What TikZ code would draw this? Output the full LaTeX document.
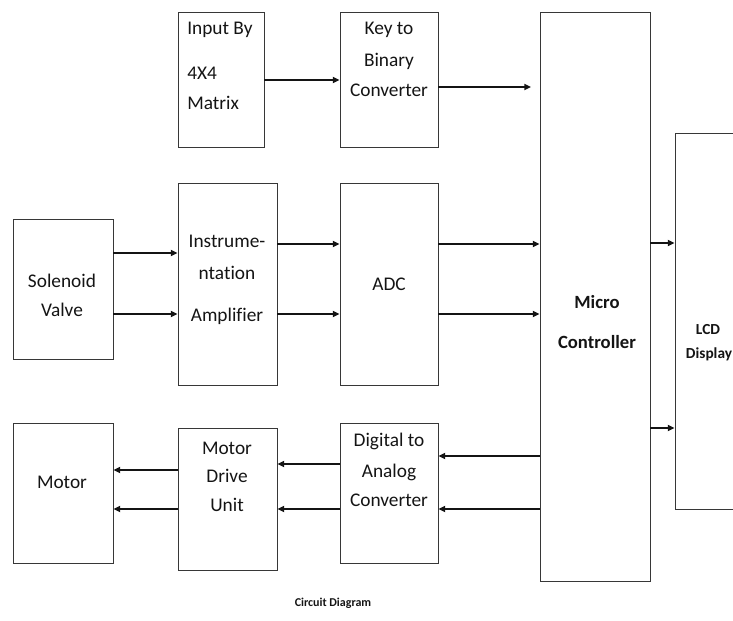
\documentclass[tikz,border=0pt]{standalone}
\usepackage{fontspec}
\setmainfont[Ligatures=NoCommon]{Carlito}
\usetikzlibrary{positioning,arrows.meta,fit}
\definecolor{ink}{RGB}{20,20,20}
\definecolor{frame}{RGB}{55,55,55}
\tikzset{
  blk/.style={draw=frame, line width=0.6pt, inner sep=0pt},
  txt/.style={font=\fontsize{14.5}{16}\selectfont, text=ink, inner sep=0pt},
  btxt/.style={font=\bfseries\fontsize{14}{16}\selectfont, text=ink, inner sep=0pt},
  stxt/.style={font=\bfseries\fontsize{11.5}{13}\selectfont, text=ink, inner sep=0pt},
  sig/.style={-{Triangle[length=5pt,width=4.5pt]}, line width=1.4pt, draw=ink},
}

\begin{document}
\begin{tikzpicture}[x=0.75pt, y=-0.75pt]
  \useasboundingbox (0,0) rectangle (733,621);
  % blocks
  \node[blk, fit={(178,12) (264,147)}] (inp) {};
  \node[blk, fit={(340,12) (438,147)}] (key) {};
  \node[blk, fit={(540,12) (650,581)}] (mc) {};
  \node[blk, fit={(675,133) (745,509)}] (lcd) {};
  \node[blk, fit={(13,219) (113,359)}] (sol) {};
  \node[blk, fit={(178,183) (277,385)}] (ins) {};
  \node[blk, fit={(340,183) (438,385)}] (adc) {};
  \node[blk, fit={(13,423) (113,563)}] (mot) {};
  \node[blk, fit={(178,428) (277,570)}] (mdu) {};
  \node[blk, fit={(340,423) (438,563)}] (dac) {};
  % labels
  \node[txt, anchor=west] (inp-a) at (187,30) {Input By};
  \node[txt, anchor=west] (inp-b) at (187,73) {4X4};
  \node[txt, anchor=west] (inp-c) at (187,103) {Matrix};
  \node[txt] (key-a) at (389,30) {Key to};
  \node[txt] (key-b) at (389,61) {Binary};
  \node[txt] (key-c) at (389,90) {Converter};
  \node[btxt] (mc-a) at (597,302) {Micro};
  \node[btxt] (mc-b) at (597,342) {Controller};
  \node[stxt] (lcd-a) at (708,330) {LCD};
  \node[stxt] (lcd-b) at (709,354) {Display};
  \node[txt] (sol-a) at (62,281) {Solenoid};
  \node[txt] (sol-b) at (62,310) {Valve};
  \node[txt] (ins-a) at (227,241) {Instrume-};
  \node[txt] (ins-b) at (227,273) {ntation};
  \node[txt] (ins-c) at (227,316) {Amplifier};
  \node[txt] (adc-a) at (389,284) {ADC};
  \node[txt] (mot-a) at (62,482) {Motor};
  \node[txt] (mdu-a) at (227,448) {Motor};
  \node[txt] (mdu-b) at (227,476) {Drive};
  \node[txt] (mdu-c) at (227,505) {Unit};
  \node[txt] (dac-a) at (389,441) {Digital to};
  \node[txt] (dac-b) at (389,472) {Analog};
  \node[txt] (dac-c) at (389,500) {Converter};
  \node[font=\bfseries\fontsize{9}{11}\selectfont, text=ink] (cap) at (333,603) {Circuit Diagram};
  % signal rows
  \coordinate (r0) at (0,80);   \coordinate (r1) at (0,87);
  \coordinate (r2) at (0,253);  \coordinate (r3) at (0,244);
  \coordinate (r4) at (0,314);  \coordinate (r5) at (0,243);
  \coordinate (r6) at (0,428);  \coordinate (r7) at (0,456);
  \coordinate (r8) at (0,509);  \coordinate (r9) at (0,464);
  \coordinate (r10) at (0,470);
  % connectors
  \draw[sig] (inp.east |- r0) -- (key.west |- r0);
  \draw[sig, shorten >=6.5pt] (key.east |- r1) -- (mc.west |- r1);
  \draw[sig] (sol.east |- r2) -- (ins.west |- r2);
  \draw[sig] (sol.east |- r4) -- (ins.west |- r4);
  \draw[sig] (ins.east |- r3) -- (adc.west |- r3);
  \draw[sig] (ins.east |- r4) -- (adc.west |- r4);
  \draw[sig] (adc.east |- r3) -- (mc.west |- r3);
  \draw[sig] (adc.east |- r4) -- (mc.west |- r4);
  \draw[sig] (mc.east |- r5) -- (lcd.west |- r5);
  \draw[sig] (mc.east |- r6) -- (lcd.west |- r6);
  \draw[sig] (mc.west |- r7) -- (dac.east |- r7);
  \draw[sig] (mc.west |- r8) -- (dac.east |- r8);
  \draw[sig] (dac.west |- r9) -- (mdu.east |- r9);
  \draw[sig] (dac.west |- r8) -- (mdu.east |- r8);
  \draw[sig] (mdu.west |- r10) -- (mot.east |- r10);
  \draw[sig] (mdu.west |- r8) -- (mot.east |- r8);
\end{tikzpicture}
\end{document}
